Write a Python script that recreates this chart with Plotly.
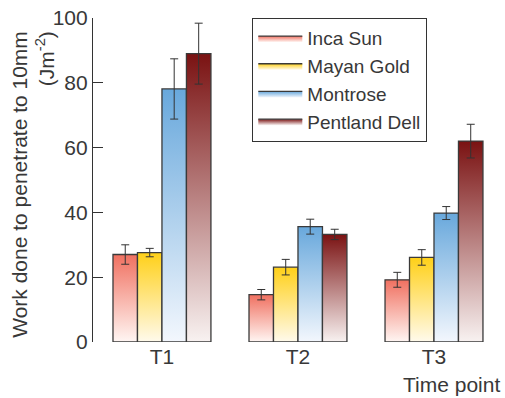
import plotly.graph_objects as go

categories = ["T1", "T2", "T3"]
varieties = ["Inca Sun", "Mayan Gold", "Montrose", "Pentland Dell"]
inca_sun = [27.0, 14.6, 19.2]
mayan_gold = [27.6, 23.1, 26.1]
montrose = [78.1, 35.6, 39.8]
pentland_dell = [89.0, 33.2, 62.0]
inca_sun_err = [3.0, 1.6, 2.3]
mayan_gold_err = [1.3, 2.4, 2.4]
montrose_err = [9.3, 2.3, 2.0]
pentland_dell_err = [9.4, 1.6, 5.2]

values = [inca_sun, mayan_gold, montrose, pentland_dell]
errors = [inca_sun_err, mayan_gold_err, montrose_err, pentland_dell_err]
top_colors = ["#f07060", "#ffd018", "#68a8dc", "#7a1212"]
bottom_colors = ["#fff6f3", "#fffaec", "#f3f7fd", "#f8f2f1"]

FONT = "Liberation Sans"
TXT = "#383838"
group_width = 0.72
bar_w = group_width / len(varieties)

fig = go.Figure()
for j, name in enumerate(varieties):
    for i, cat in enumerate(categories):
        xc = i + (j - (len(varieties) - 1) / 2) * bar_w
        x0, x1 = xc - bar_w / 2, xc + bar_w / 2
        v = values[j][i]
        fig.add_trace(go.Scatter(
            x=[x0, x1, x1, x0, x0], y=[0, 0, v, v, 0],
            mode="lines", fill="toself",
            line=dict(color="#3a3a3a", width=1.3),
            fillgradient=dict(type="vertical", start=0, stop=v,
                              colorscale=[[0, bottom_colors[j]], [1, top_colors[j]]]),
            name=name, legendgroup=name, showlegend=(i == 0),
            hoverinfo="skip",
        ))
    xs = [i + (j - (len(varieties) - 1) / 2) * bar_w for i in range(len(categories))]
    fig.add_trace(go.Scatter(
        x=xs, y=values[j], mode="markers",
        marker=dict(size=1, color="rgba(0,0,0,0)"),
        error_y=dict(type="data", array=errors[j], color="#333333", thickness=1, width=4),
        showlegend=False, hoverinfo="skip",
    ))

fig.add_annotation(
    text="Work done to penetrate to 10mm<br>(Jm<sup>-2</sup>)",
    xref="paper", yref="paper", x=-0.147, y=0.488, textangle=-90, align="right",
    showarrow=False, font=dict(family=FONT, size=21, color=TXT), xanchor="center", yanchor="middle",
)
fig.add_annotation(
    text="Time point", xref="paper", yref="paper", x=1.0, y=-0.09,
    xanchor="right", yanchor="top", showarrow=False,
    font=dict(family=FONT, size=21, color=TXT),
)

fig.update_layout(
    width=505, height=398,
    margin=dict(l=93, r=3, t=18, b=56),
    plot_bgcolor="white", paper_bgcolor="white",
    font=dict(family=FONT, size=21, color=TXT),
    xaxis=dict(range=[-0.507, 2.5], tickmode="array", tickvals=list(range(len(categories))),
               ticktext=categories, showgrid=False, zeroline=False, showline=False,
               ticks="", tickfont=dict(size=21, color=TXT)),
    yaxis=dict(range=[0, 100], tickvals=[0, 20, 40, 60, 80, 100], showgrid=False,
               zeroline=False, showline=True, linecolor="#333333", linewidth=1.2,
               ticks="inside", ticklen=10, tickcolor="#333333", tickwidth=1.2,
               tickfont=dict(size=21, color=TXT), ticklabeloverflow="allow"),
    legend=dict(x=0.389, y=1.0, xanchor="left", yanchor="top",
                bordercolor="#333333", borderwidth=1.2, bgcolor="white",
                font=dict(family=FONT, size=19, color=TXT), itemwidth=44,
                tracegroupgap=0),
    showlegend=True,
)

fig.write_html("out.html", config={"displayModeBar": False},
               post_script="document.body.style.margin='0';")
